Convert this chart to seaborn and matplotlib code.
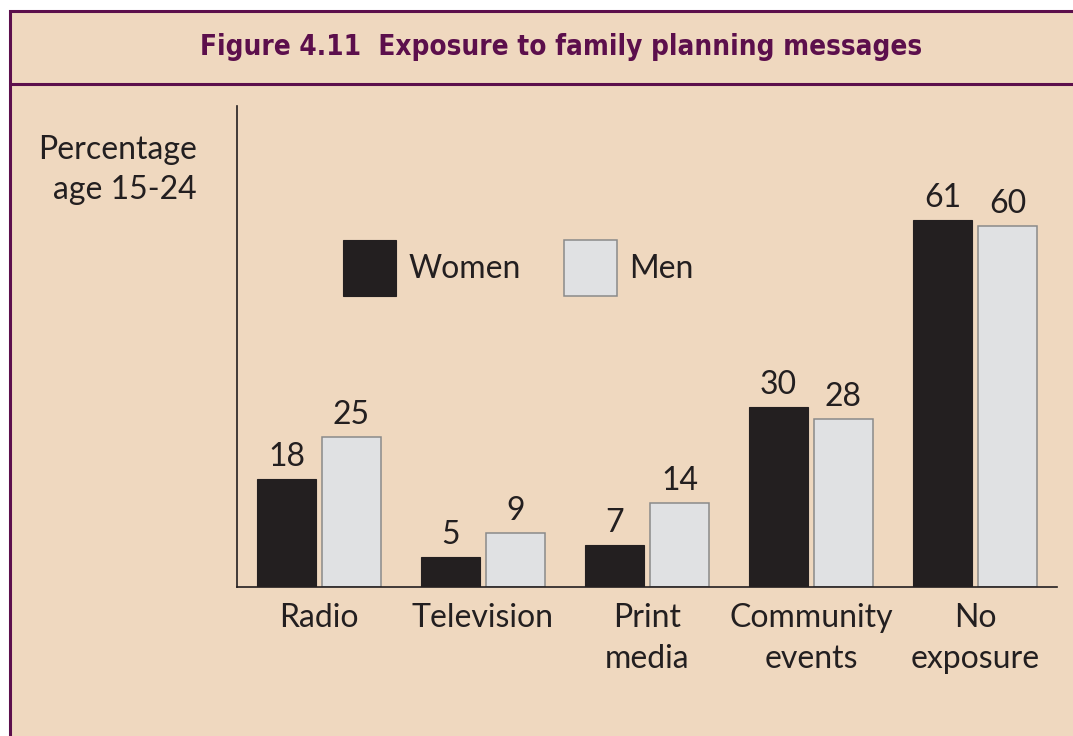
import matplotlib
matplotlib.use("Agg")
import matplotlib.pyplot as plt
import seaborn as sns
import pandas as pd
from matplotlib.patches import Rectangle, Patch
from matplotlib.lines import Line2D

categories = ["Radio", "Television", "Print\nmedia", "Community\nevents", "No\nexposure"]
women = [18, 5, 7, 30, 61]
men = [25, 9, 14, 28, 60]
series_names = ["Women", "Men"]

BG = "#efd8bf"
PURPLE = "#5c0f4c"
DARK = "#231f20"
LIGHT = "#e0e1e3"
EDGE = "#8a8a8a"
TXT = "#231f20"

sns.set_theme(style="white")
plt.rcParams["font.family"] = ["Lato", "DejaVu Sans"]

df = pd.DataFrame({
    "category": categories * 2,
    "value": women + men,
    "group": [series_names[0]] * len(categories) + [series_names[1]] * len(categories),
})

W, H = 1073, 736
fig = plt.figure(figsize=(W / 100, H / 100), dpi=100)
fig.patch.set_facecolor("white")

# frame
fig.patches.append(Rectangle((9.5 / W, -0.05), 1.2, 1 - 10.5 / H + 0.05, transform=fig.transFigure,
                             facecolor=BG, edgecolor=PURPLE, linewidth=2.2, zorder=-2))
fig.lines.append(Line2D([9.5 / W, 1.0], [1 - 83.5 / H, 1 - 83.5 / H], transform=fig.transFigure,
                        color=PURPLE, linewidth=2.2, zorder=-1))
fig.text(561 / W, 1 - 47 / H, "Figure 4.11  Exposure to family planning messages",
         ha="center", va="center", color=PURPLE, fontsize=20, fontweight="bold",
         fontstretch="condensed", family=["DejaVu Sans"])

ax = fig.add_axes([237 / W, 1 - 587 / H, (1057 - 237) / W, (587 - 106) / H])
ax.set_facecolor("none")
ax.set_zorder(2)
sns.barplot(data=df, x="category", y="value", hue="group", order=categories,
            hue_order=series_names, palette=[DARK, LIGHT], width=0.79, gap=0.09,
            saturation=1, ax=ax, legend=False, errorbar=None)

for i, cont in enumerate(ax.containers):
    for p in cont:
        if i == 0:
            p.set_edgecolor(DARK)
            p.set_linewidth(0.8)
        else:
            p.set_edgecolor(EDGE)
            p.set_linewidth(1.1)
    ax.bar_label(cont, fmt="%d", padding=5, fontsize=23, color=TXT)

ax.set_xlim(-0.5, 4.5)
ax.set_ylim(0, 80)
ax.set_yticks([])
ax.set_xlabel("")
ax.set_ylabel("")
for s in ["top", "right"]:
    ax.spines[s].set_visible(False)
for s in ["left", "bottom"]:
    ax.spines[s].set_color(TXT)
    ax.spines[s].set_linewidth(1.2)
ax.tick_params(axis="x", length=0, pad=11.5, labelsize=23, labelcolor=TXT)
for lbl in ax.get_xticklabels():
    lbl.set_linespacing(1.45)

fig.text(197 / W, 1 - 170 / H, "Percentage\nage 15-24", ha="right", va="center",
         multialignment="right", fontsize=23, color=TXT, linespacing=1.45)

handles = [Patch(facecolor=DARK, edgecolor=DARK, linewidth=0.8),
           Patch(facecolor=LIGHT, edgecolor=EDGE, linewidth=1.1)]
leg = fig.legend(handles, series_names, loc="upper left", bbox_to_anchor=(343 / W, 1 - 240 / H),
                 bbox_transform=fig.transFigure, ncol=2, frameon=False, fontsize=23,
                 handlelength=1.65, handleheight=2.33, handletextpad=0.4, columnspacing=1.35,
                 borderpad=0, borderaxespad=0, labelcolor=TXT)

fig.savefig("out.png", dpi=100, facecolor=fig.get_facecolor())
